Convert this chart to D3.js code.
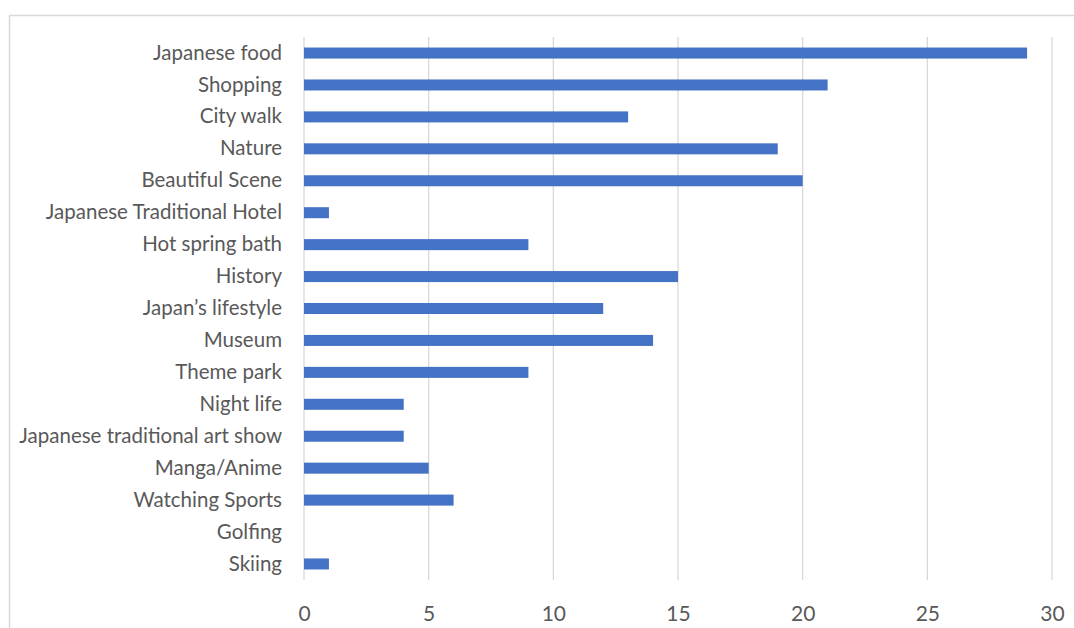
<!DOCTYPE html>
<html>
<head>
<meta charset="utf-8">
<script src="https://cdn.jsdelivr.net/npm/d3@7"></script>
<style>
  body { margin: 0; background: #fff; }
  text { font-family: Lato, "Open Sans", sans-serif; fill: #595959; }
</style>
</head>
<body>
<svg id="chart" width="1074" height="628"></svg>
<script>
// activities and number of answers
const categories = [
  "Japanese food", "Shopping", "City walk", "Nature", "Beautiful Scene",
  "Japanese Traditional Hotel", "Hot spring bath", "History", "Japan\u2019s lifestyle",
  "Museum", "Theme park", "Night life", "Japanese traditional art show",
  "Manga/Anime", "Watching Sports", "Golfing", "Skiing"
];
const counts = [29, 21, 13, 19, 20, 1, 9, 15, 12, 14, 9, 4, 4, 5, 6, 0, 1];
const xTicks = [0, 5, 10, 15, 20, 25, 30];

const svg = d3.select("#chart");
const margin = {top: 37, left: 304, right: 22, bottom: 48};
const W = 1074, H = 628;

// outer chart-area border (runs off the right and bottom edge like the original)
svg.append("rect")
  .attr("x", 9.5).attr("y", 15.5)
  .attr("width", 1100).attr("height", 700)
  .attr("fill", "none").attr("stroke", "#d9d9d9").attr("stroke-width", 1.5);

const x = d3.scaleLinear().domain([0, 30]).range([margin.left, W - margin.right]);
const y = d3.scaleBand().domain(categories).range([margin.top, H - margin.bottom]).paddingInner(0.655).paddingOuter(0.33);

// gridlines
svg.append("g").selectAll("line").data(xTicks).join("line")
  .attr("x1", d => x(d)).attr("x2", d => x(d))
  .attr("y1", margin.top).attr("y2", H - margin.bottom)
  .attr("stroke", "#d9d9d9").attr("stroke-width", 1.3);

// bars
svg.append("g").selectAll("rect").data(counts).join("rect")
  .attr("x", x(0))
  .attr("y", (d, i) => y(categories[i]))
  .attr("width", d => x(d) - x(0))
  .attr("height", y.bandwidth())
  .attr("fill", "#4472c4");

// axes
const xAxis = d3.axisBottom(x).tickValues(xTicks).tickSize(0).tickPadding(0);
svg.append("g").attr("transform", `translate(0,${H - margin.bottom})`).call(xAxis)
  .call(g => g.select(".domain").remove())
  .selectAll("text").attr("y", 0).attr("dy", "1.95em").style("font-size", "21px");

const yAxis = d3.axisLeft(y).tickSize(0).tickPadding(22);
svg.append("g").attr("transform", `translate(${margin.left},0)`).call(yAxis)
  .call(g => g.select(".domain").remove())
  .selectAll("text").style("font-size", "20.5px");
</script>
</body>
</html>
